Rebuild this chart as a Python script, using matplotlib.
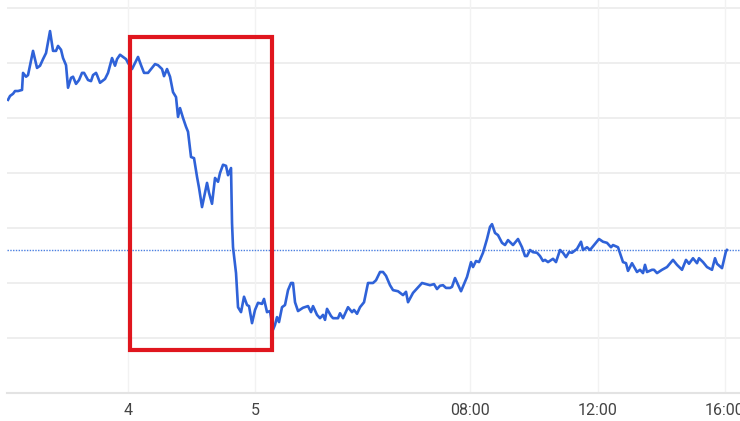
import matplotlib.pyplot as plt
from matplotlib.patches import Rectangle

# bar index (time) and price level
bars = [
    0, 0.5, 1.25, 1.75, 2.5, 3.5, 3.75, 4.5, 5, 6.25, 7.25, 8, 8.75, 9.5, 10.5,
    11.25, 12, 12.5, 13.25, 13.75, 14.5, 15, 15.75, 16.25, 17, 17.75, 18.5, 19,
    20, 20.75, 21.25, 22, 22.25, 23, 24.25, 25, 26, 26.75, 27.25, 28, 28.75,
    29.5, 30, 31, 32.5, 33.25, 34, 35, 36, 36.75, 37.5, 38.5, 39, 39.75, 40.5,
    41.25, 42, 42.5, 43, 43.75, 44.5, 45, 45.75, 46.5, 47.25, 47.75, 48.5, 49,
    49.75, 50.25, 51, 51.75, 52.5, 53, 53.75, 54.5, 55, 55.75, 56, 56.25, 57,
    57.5, 58.25, 59, 59.75, 60.25, 61, 61.75, 62.5, 63.5, 64, 64.75, 65.5,
    66.25, 66.75, 67.25, 67.75, 68.5, 69.25, 70, 70.75, 71.25, 71.75, 72.5,
    73.75, 75, 75.75, 76.25, 77.25, 78, 78.75, 79.25, 79.75, 80.75, 81.25,
    82.5, 83, 83.75, 85, 86, 86.5, 87.25, 88, 89, 90, 91.25, 92, 93, 93.75,
    94.5, 95.5, 96.25, 97.5, 98.75, 99.5, 100, 101.25, 103.5, 105.5, 106.5,
    107.25, 108, 108.75, 109.5, 110.5, 111, 111.75, 113.25, 114.75, 115.75,
    116.25, 117, 117.75, 118.75, 119.75, 120.5, 121, 121.75, 122.5, 123.5,
    124.25, 125, 126.25, 127.5, 128.5, 129.25, 129.75, 130.5, 131.25, 132.25,
    133, 133.75, 134.25, 135, 136.25, 137, 138, 138.75, 139.5, 140.25, 141,
    142.25, 143.25, 143.75, 144.75, 145.5, 147.75, 148.75, 149.75, 150.75,
    151.25, 152.5, 153.75, 154.5, 155, 156, 157.25, 158, 158.75, 159.25,
    159.75, 161, 161.5, 162.25, 163.5, 164.75, 166.25, 167.25, 168.5, 169.5,
    170.25, 171.25, 172.25, 172.75, 173.75, 174.75, 176, 176.75, 177.25,
    178.5, 179.5, 179.75,
]
price = [
    53.3, 54.0, 54.4, 54.9, 54.9, 55.1, 58.2, 57.5, 57.8, 62.2, 59.1, 59.5,
    60.7, 61.8, 65.8, 62.2, 62.2, 63.1, 62.4, 60.9, 59.6, 55.5, 57.3, 57.5,
    56.2, 56.9, 58.2, 58.2, 56.9, 56.7, 57.8, 58.2, 57.8, 56.4, 57.1, 58.2,
    60.9, 59.5, 60.7, 61.5, 61.1, 60.7, 60.0, 58.9, 61.1, 59.6, 58.2, 58.2,
    59.1, 59.8, 59.6, 58.9, 57.6, 58.9, 57.5, 54.7, 53.8, 50.2, 51.8, 50.0,
    48.4, 47.5, 42.9, 42.7, 39.3, 37.3, 33.8, 35.6, 38.2, 36.4, 34.4, 39.1,
    38.4, 40.0, 41.5, 41.3, 39.6, 40.9, 30.9, 26.5, 21.8, 15.6, 14.7, 17.5,
    16.0, 15.8, 12.7, 15.1, 16.4, 16.2, 17.1, 14.7, 14.9, 11.5, 12.4, 13.8,
    12.9, 15.6, 16.0, 18.7, 20.0, 20.0, 16.5, 14.9, 15.5, 15.8, 14.7, 15.8,
    14.2, 13.6, 14.2, 13.3, 15.3, 14.0, 13.6, 13.6, 14.5, 13.6, 15.6, 14.7,
    15.1, 14.4, 15.6, 16.5, 20.0, 20.0, 20.5, 22.0, 22.0, 21.3, 19.6, 18.7,
    18.5, 17.8, 18.4, 16.5, 18.2, 20.0, 19.6, 19.8, 18.9, 19.5, 19.6, 19.1,
    19.1, 19.3, 20.9, 18.5, 21.1, 23.8, 22.9, 24.0, 23.8, 25.5, 28.0, 30.2,
    30.7, 29.1, 28.7, 27.3, 26.9, 27.8, 26.9, 28.0, 26.5, 24.9, 24.9, 26.0,
    25.6, 25.5, 24.9, 24.0, 24.2, 23.8, 24.4, 23.8, 26.0, 25.5, 24.7, 25.6,
    25.5, 26.2, 27.5, 26.0, 26.5, 26.0, 28.0, 27.5, 27.3, 26.5, 26.9, 26.5,
    23.8, 23.6, 22.2, 23.6, 22.0, 22.4, 21.8, 23.3, 22.0, 22.4, 22.4, 21.8,
    22.4, 22.9, 24.2, 23.3, 22.4, 24.2, 23.5, 24.5, 23.6, 24.5, 23.8, 22.9,
    22.4, 24.5, 23.5, 22.7, 25.8, 26.0,
]

tick_pos = [30, 61.75, 115.5, 147.5, 179.25]
tick_labels = ["4", "5", "08:00", "12:00", "16:00"]
grid_levels = [10, 20, 30, 40, 50, 60, 70]
prev_close = 26.0

# highlighted window (bar range, price range)
box_bars = (30.5, 66.0)
box_price = (7.8, 64.7)

fig = plt.figure(figsize=(7.4, 4.21), dpi=100)
ax = fig.add_axes([0.0095, 0.0665, 0.9905, 0.9335])

ax.set_xlim(-0.25, 183)
ax.set_ylim(0, 71.45)

for lv in grid_levels:
    ax.axhline(lv, color="#ebebeb", lw=1.2, zorder=0)
for tp in tick_pos:
    ax.axvline(tp, color="#f2f2f2", lw=1.0, zorder=0)

ax.axhline(prev_close, color="#4a7fe0", lw=1.0, ls=(0, (1, 1)), zorder=1)
ax.plot(bars, price, color="#2f62d8", lw=1.9, zorder=3)

ax.add_patch(Rectangle((box_bars[0], box_price[0]), box_bars[1] - box_bars[0],
                       box_price[1] - box_price[0], fill=False,
                       edgecolor="#e0161e", lw=3.0, zorder=4))

for side in ["top", "right", "left"]:
    ax.spines[side].set_visible(False)
ax.spines["bottom"].set_color("#e3e3e3")
ax.spines["bottom"].set_linewidth(1.5)

ax.set_yticks([])
ax.set_xticks(tick_pos)
ax.set_xticklabels(tick_labels, fontsize=11.5, color="#444444", family="Roboto")
ax.tick_params(axis="x", length=0, pad=7)

fig.savefig("out.png", dpi=100)
